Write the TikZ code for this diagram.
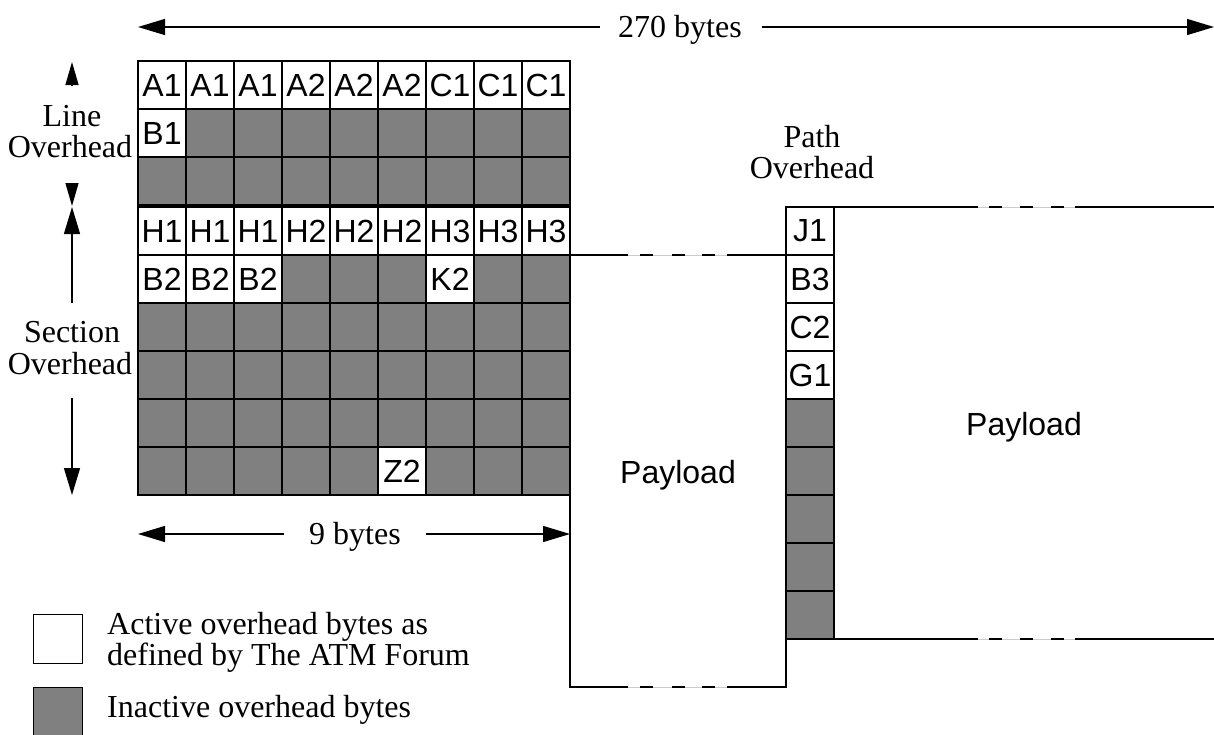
\documentclass[tikz,border=0pt]{standalone}
\usepackage{fontspec}
\setmainfont{Liberation Serif}
\newfontfamily\arialf{Liberation Sans}
\usetikzlibrary{arrows.meta,calc}
\definecolor{cellgray}{HTML}{808080}
\begin{document}
\begin{tikzpicture}[x=1pt,y=-1pt,
  ln/.style={line width=1.3pt},
  cellw/.style={draw,line width=1.3pt,fill=white,minimum width=48pt,minimum height=48pt,inner sep=0pt,outer sep=0pt,font=\arialf\fontsize{32}{34}\selectfont},
  cellg/.style={cellw,fill=cellgray},
  serif/.style={font=\fontsize{32}{36}\selectfont,inner sep=0pt},
  sans/.style={font=\arialf\fontsize{32}{34}\selectfont,inner sep=0pt},
  bigarr/.style={line width=1.3pt,-{Triangle[length=27pt,width=16pt]}},
  smallarr/.style={line width=1.3pt,-{Triangle[length=23pt,width=13pt]}},
  gapline/.style={line width=1pt,draw=gray!40},
  legbox/.style={draw,line width=1pt,minimum width=49pt,minimum height=49pt,inner sep=0pt,outer sep=0pt},
  ]
\useasboundingbox (0,0) rectangle (1214,734);
% ---- Line overhead (3 rows)
\foreach \t [count=\i from 0] in {A1,A1,A1,A2,A2,A2,C1,C1,C1}
  \node[cellw] (l1c\i) at (162+48*\i,85) {\t};
\node[cellw] (l2c0) at (162,133) {B1};
\foreach \i in {1,...,8} \node[cellg] (l2c\i) at (162+48*\i,133) {};
\foreach \i in {0,...,8} \node[cellg] (l3c\i) at (162+48*\i,181) {};
% ---- Section overhead (6 rows)
\foreach \t [count=\i from 0] in {H1,H1,H1,H2,H2,H2,H3,H3,H3}
  \node[cellw] (s1c\i) at (162+48*\i,231) {\t};
\foreach \i in {0,1,2} \node[cellw] (s2c\i) at (162+48*\i,279) {B2};
\foreach \i in {3,4,5,7,8} \node[cellg] (s2c\i) at (162+48*\i,279) {};
\node[cellw] (s2c6) at (162+48*6,279) {K2};
\foreach \r/\y in {3/327,4/375,5/423}
  \foreach \i in {0,...,8} \node[cellg] (s\r c\i) at (162+48*\i,\y) {};
\foreach \i in {0,1,2,3,4,6,7,8} \node[cellg] (s6c\i) at (162+48*\i,471) {};
\node[cellw] (s6c5) at (162+48*5,471) {Z2};
% ---- Payload 1
\node[minimum width=216pt,minimum height=432pt,inner sep=0pt,outer sep=0pt] (pay1) at (678,471) {};
\draw[ln] (pay1.north west) -- (pay1.south west) -- ($(pay1.south west)+(58,0)$);
\draw[ln] ($(pay1.south west)+(157,0)$) -- (pay1.south east) -- (pay1.north east) -- ($(pay1.north west)+(157,0)$);
\draw[ln] (pay1.north west) -- ($(pay1.north west)+(58,0)$);
\draw[gapline] ($(pay1.north west)+(58,0)$) -- ($(pay1.north west)+(157,0)$);
\draw[gapline] ($(pay1.south west)+(58,0)$) -- ($(pay1.south west)+(157,0)$);
\foreach \a in {70,102,132} {
  \draw[ln] ($(pay1.north west)+(\a,0)$) -- ($(pay1.north west)+(\a+13,0)$);
  \draw[ln] ($(pay1.south west)+(\a,0)$) -- ($(pay1.south west)+(\a+13,0)$);
}
\node[sans,anchor=base] (pay1lab) at (678,483) {Payload};
% ---- Path overhead column
\node[cellw] (p1) at (810,231) {J1};
\node[cellw] (p2) at (810,279) {B3};
\node[cellw] (p3) at (810,327) {C2};
\node[cellw] (p4) at (810,375) {G1};
\foreach \r/\y in {5/423,6/471,7/519,8/567,9/615} \node[cellg] (p\r) at (810,\y) {};
\node[serif,anchor=base] (pathA) at (812,147) {Path};
\node[serif,anchor=base] (pathB) at (812,178) {Overhead};
% ---- Payload 2
\node[minimum width=380pt,minimum height=432pt,inner sep=0pt,outer sep=0pt] (pay2) at (1024,423) {};
\draw[ln] (pay2.north west) -- ($(pay2.north west)+(144,0)$);
\draw[ln] ($(pay2.north west)+(241,0)$) -- (pay2.north east);
\draw[ln] (pay2.south west) -- ($(pay2.south west)+(144,0)$);
\draw[ln] ($(pay2.south west)+(241,0)$) -- (pay2.south east);
\draw[gapline] ($(pay2.north west)+(144,0)$) -- ($(pay2.north west)+(241,0)$);
\draw[gapline] ($(pay2.south west)+(144,0)$) -- ($(pay2.south west)+(241,0)$);
\foreach \a in {155,186,217} {
  \draw[ln] ($(pay2.north west)+(\a,0)$) -- ($(pay2.north west)+(\a+13,0)$);
  \draw[ln] ($(pay2.south west)+(\a,0)$) -- ($(pay2.south west)+(\a+13,0)$);
}
\node[sans,anchor=base] (pay2lab) at (1024,435) {Payload};
% ---- 270 bytes
\node[serif,anchor=base] (lab270) at (680,37) {270 bytes};
\coordinate (t270L) at (138,27);
\coordinate (t270R) at (1214,27);
\coordinate (a270l) at (600,27);
\coordinate (a270r) at (762,27);
\draw[bigarr] (a270l) -- (t270L);
\draw[bigarr] (a270r) -- (t270R);
% ---- 9 bytes
\node[serif,anchor=base] (lab9) at (355,544) {9 bytes};
\coordinate (t9L) at (138,534);
\coordinate (t9R) at (570,534);
\coordinate (a9l) at (284,534);
\coordinate (a9r) at (426,534);
\draw[bigarr] (a9l) -- (t9L);
\draw[bigarr] (a9r) -- (t9R);
% ---- Line overhead label
\node[serif,anchor=base] (lineA) at (72,126) {Line};
\node[serif,anchor=base] (lineB) at (70,157) {Overhead};
\coordinate (loT) at (72,62);
\coordinate (loTb) at (72,85);
\coordinate (loB) at (72,206);
\coordinate (loBb) at (72,183);
\draw[smallarr] (loTb) -- (loT);
\draw[smallarr] (loBb) -- (loB);
% ---- Section overhead label
\node[serif,anchor=base] (secA) at (72,342) {Section};
\node[serif,anchor=base] (secB) at (70,374) {Overhead};
\coordinate (soT) at (72,207);
\coordinate (soTb) at (72,303);
\coordinate (soB) at (72,495);
\coordinate (soBb) at (72,398);
\draw[bigarr] (soTb) -- (soT);
\draw[bigarr] (soBb) -- (soB);
% ---- Legend
\node[legbox,fill=white] (legw) at (57.5,638.5) {};
\node[legbox,fill=cellgray] (legg) at (57.5,711.5) {};
\node[serif,anchor=base west] (leg1) at (107,634) {Active overhead bytes as};
\node[serif,anchor=base west] (leg2) at (107,665) {defined by The ATM Forum};
\node[serif,anchor=base west] (leg3) at (107,717) {Inactive overhead bytes};
\end{tikzpicture}
\end{document}
